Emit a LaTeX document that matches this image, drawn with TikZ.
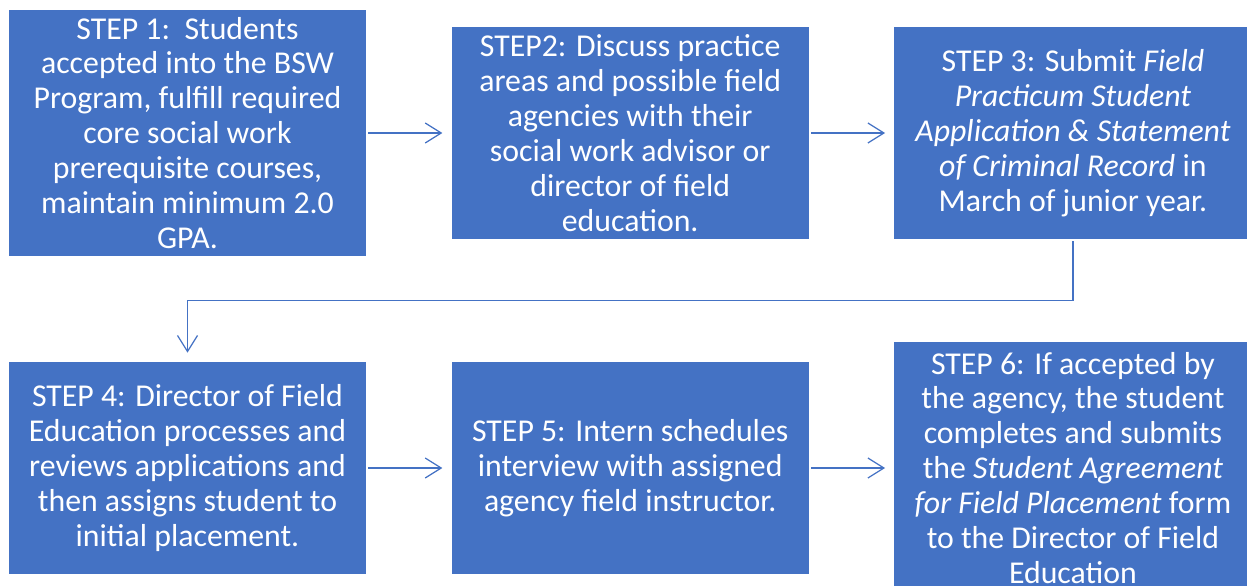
\documentclass[tikz,border=0pt]{standalone}
\usepackage{fontspec}
\setmainfont{Carlito}
\usepackage{tikz}
\usetikzlibrary{arrows.meta,positioning}
\definecolor{stepblue}{RGB}{68,114,196}
\begin{document}
\begin{tikzpicture}[node distance=1.7cm,
    stepbox/.style={fill=stepblue,text=white,align=center,minimum width=7.14cm,minimum height=4.24cm,inner sep=0pt,font=\fontsize{18.1}{19.9}\selectfont},
    link/.style={draw=stepblue,line width=0.7pt,-{Straight Barb[length=3.2mm,width=4mm]},shorten >=0.18cm,shorten <=0.04cm}]
    \useasboundingbox (0,0) rectangle (24.94,-11.72);
    \node[stepbox,minimum height=4.92cm] (s1) at (3.75,-2.66){STEP 1:\ \ Students\\accepted into the BSW\\Program, fulfill required\\core social work\\prerequisite courses,\\maintain minimum 2.0\\GPA.};
    \node[stepbox,right=of s1] (s2){STEP2: Discuss practice\\areas and possible field\\agencies with their\\social work advisor or\\director of field\\education.};
    \node[stepbox,right=of s2] (s3){STEP 3: Submit \textit{Field}\\\textit{Practicum Student}\\\textit{Application \& Statement}\\\textit{of Criminal Record} in\\March of junior year.};
    \node[stepbox] (s4) at (3.75,-9.36){STEP 4: Director of Field\\Education processes and\\reviews applications and\\then assigns student to\\initial placement.};
    \node[stepbox,right=of s4] (s5){STEP 5: Intern schedules\\interview with assigned\\agency field instructor.};
    \node[stepbox,minimum height=5.04cm,right=of s5] (s6){STEP 6: If accepted by\\the agency, the student\\completes and submits\\the \textit{Student Agreement}\\\textit{for Field Placement} form\\to the Director of Field\\Education};
    \draw[link] (s1)--(s2);
    \draw[link] (s2)--(s3);
    \draw[link] (s3.south)--++(0,-1.22)-|(s4.north);
    \draw[link] (s4)--(s5);
    \draw[link] (s5)--(s6);
  \end{tikzpicture}
\end{document}
